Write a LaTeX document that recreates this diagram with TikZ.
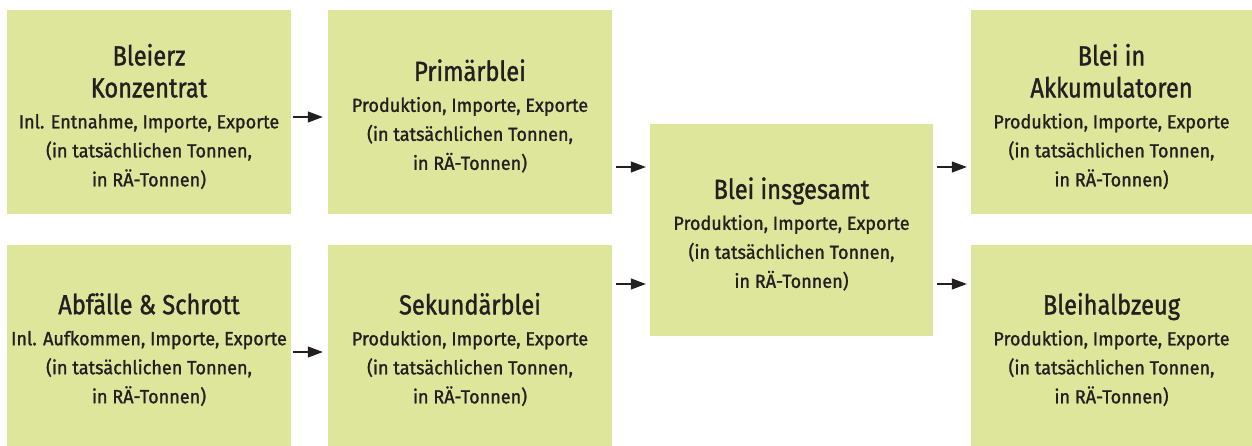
\documentclass[tikz,border=0pt]{standalone}
\usepackage{fontspec}
\setmainfont{Fira Sans}
\newfontfamily\titlefam{Fira Sans}[FakeStretch=0.86,FakeBold=1.2]
\newfontfamily\subfam{Fira Sans}[FakeStretch=0.95,FakeBold=1.2]
\usetikzlibrary{arrows.meta}
\definecolor{boxfill}{RGB}{221,230,155}
\definecolor{ink}{RGB}{35,31,32}
\newcommand{\ttl}{\titlefam\fontsize{27.5}{29}\selectfont}
\newcommand{\sbt}{\subfam\fontsize{19}{29}\selectfont}
\begin{document}
\begin{tikzpicture}[x=1pt,y=-1pt,
  box/.style={fill=boxfill,draw=none,inner sep=0pt,minimum width=284pt,minimum height=204pt},
  txt/.style={align=center,text=ink,inner sep=0pt,font=\sbt},
  arr/.style={draw=ink,line width=1.1pt,-{Triangle[length=15pt,width=11pt]}}]
\useasboundingbox (0,0) rectangle (1252,446);
\node[box] (b1) at (149,112) {};
\node[box] (b2) at (470,112) {};
\node[box,minimum height=201pt] (b3) at (149,345.5) {};
\node[box,minimum height=201pt] (b4) at (470,345.5) {};
\node[box,minimum width=283pt,minimum height=212pt] (b5) at (791.5,230) {};
\node[box,minimum width=281pt] (b6) at (1111.5,112) {};
\node[box,minimum width=281pt,minimum height=201pt] (b7) at (1111.5,345.5) {};

\node[txt] (t1) at ([yshift=-4.5pt]b1.center) {\ttl Bleierz\\[3pt]\ttl Konzentrat\\[2pt]Inl. Entnahme, Importe, Exporte\\(in tatsächlichen Tonnen,\\in RÄ-Tonnen)};
\node[txt] (t2) at ([yshift=-4pt]b2.center) {\ttl Primärblei\\[2pt]Produktion, Importe, Exporte\\(in tatsächlichen Tonnen,\\in RÄ-Tonnen)};
\node[txt] (t3) at ([yshift=-4pt]b3.center) {\ttl Abfälle \& Schrott\\[2pt]Inl. Aufkommen, Importe, Exporte\\(in tatsächlichen Tonnen,\\in RÄ-Tonnen)};
\node[txt] (t4) at ([yshift=-4pt]b4.center) {\ttl Sekundärblei\\[2pt]Produktion, Importe, Exporte\\(in tatsächlichen Tonnen,\\in RÄ-Tonnen)};
\node[txt] (t5) at ([yshift=-4pt]b5.center) {\ttl Blei insgesamt\\[2pt]Produktion, Importe, Exporte\\(in tatsächlichen Tonnen,\\in RÄ-Tonnen)};
\node[txt] (t6) at ([yshift=-4.5pt]b6.center) {\ttl Blei in\\[3pt]\ttl Akkumulatoren\\[2pt]Produktion, Importe, Exporte\\(in tatsächlichen Tonnen,\\in RÄ-Tonnen)};
\node[txt] (t7) at ([yshift=-4pt]b7.center) {\ttl Bleihalbzeug\\[2pt]Produktion, Importe, Exporte\\(in tatsächlichen Tonnen,\\in RÄ-Tonnen)};

\coordinate (y1) at (0,117);
\coordinate (y2) at (0,352);
\coordinate (y3) at (0,167);
\coordinate (y4) at (0,284);
\draw[arr,shorten <=2pt,shorten >=5pt] (b1.east |- y1) -- (b2.west |- y1);
\draw[arr,shorten <=2pt,shorten >=5pt] (b3.east |- y2) -- (b4.west |- y2);
\draw[arr,shorten <=4pt,shorten >=4pt] (b2.east |- y3) -- (b5.west |- y3);
\draw[arr,shorten <=4pt,shorten >=4pt] (b4.east |- y4) -- (b5.west |- y4);
\draw[arr,shorten <=4pt,shorten >=4pt] (b5.east |- y3) -- (b6.west |- y3);
\draw[arr,shorten <=4pt,shorten >=4pt] (b5.east |- y4) -- (b7.west |- y4);
\end{tikzpicture}
\end{document}
